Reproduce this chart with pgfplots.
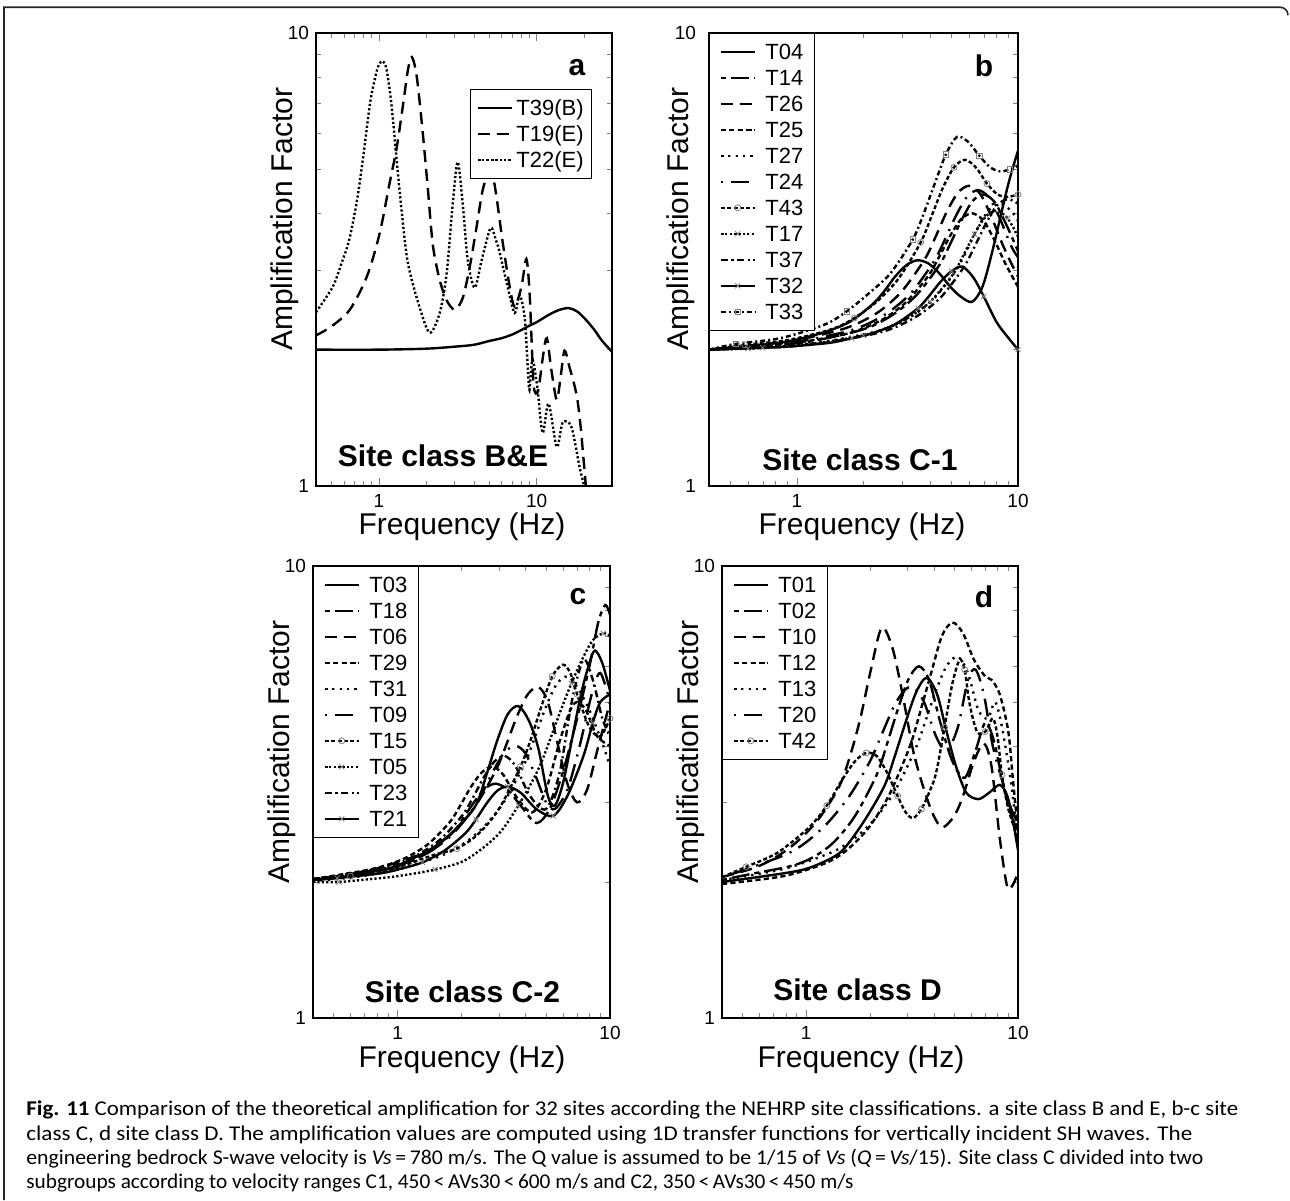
\documentclass[border=0pt]{standalone}
\usepackage{fontspec}
\setmainfont{Liberation Sans}
\newfontfamily\capfont{Carlito}
\usepackage{graphicx}
\usepackage{pgfplots}
\pgfplotsset{compat=1.18}

\tikzset{
  sSolid/.style={solid},
  sDashLong/.style={dash pattern=on 6pt off 3.5pt},
  sDashDotLong/.style={dash pattern=on 2.5pt off 2.5pt on 9pt off 2.5pt},
  sDash/.style={dash pattern=on 2.6pt off 1.6pt},
  sDot/.style={dash pattern=on 1.1pt off 2.6pt},
  sDotLong/.style={dash pattern=on 1pt off 4pt on 9pt off 4pt},
  sCirc/.style={dash pattern=on 2pt off 1.2pt, mark=o, mark size=1.5pt, mark repeat=3, mark phase=2, mark options={solid, draw=gray, line width=0.4pt}},
  sDense/.style={dash pattern=on 1.1pt off 1.1pt},
  sDenseX/.style={dash pattern=on 1.1pt off 1.1pt, mark=x, mark size=1.8pt, mark repeat=3, mark phase=2, mark options={solid, draw=gray, line width=0.4pt}},
  sDashDot/.style={dash pattern=on 3.5pt off 1.8pt on 1pt off 1.8pt},
  sSolidX/.style={solid, mark=x, mark size=1.8pt, mark repeat=3, mark phase=2, mark options={solid, draw=gray, line width=0.4pt}},
  sSq/.style={dash pattern=on 2.5pt off 1.5pt on 1pt off 1.5pt, mark=square, mark size=1.4pt, mark repeat=3, mark phase=2, mark options={solid, draw=gray, line width=0.4pt}},
}

\pgfplotsset{
  scale only axis,
  xmin=0.4, xmax=10, ymin=1, ymax=10,
  xtick={1,10}, xticklabels={1,10},
  ytick={1,10}, yticklabels={1,10},
  minor xtick={0.5,0.6,0.7,0.8,0.9,2,3,4,5,6,7,8,9},
  minor ytick={2,3,4,5,6,7,8,9},
  tick align=inside,
  major tick length=3.8pt, minor tick length=2.3pt,
  axis line style={line width=0.75pt},
  tick label style={font=\fontsize{9.5}{11}\selectfont},
  xticklabel style={yshift=-0.8pt},
  legend cell align=left,
  legend style={font=\fontsize{11}{13}\selectfont, draw=black, line width=0.5pt,
    inner xsep=5pt, inner ysep=4.5pt, row sep=3.7pt,
    /tikz/every odd column/.append style={column sep=4pt},
    nodes={inner sep=0.7pt, text height=7.9pt, text depth=0pt}},
  every axis plot/.append style={line width=1.2pt, black, smooth},
}

\begin{document}
\begin{tikzpicture}
\useasboundingbox (0,0) rectangle (645pt,-600pt);
\draw[line width=0.8pt, black!85] (2pt,-600pt) -- (2pt,-3.6pt) -- (640pt,-3.6pt) arc[start angle=90, end angle=0, radius=4pt];

% ---------------- panel a ----------------
\begin{loglogaxis}[at={(158pt,-243pt)}, anchor=south west, width=148pt, height=226.5pt,
  xmax=30, minor xtick={0.5,0.6,0.7,0.8,0.9,2,3,4,5,6,7,8,9,20},
  legend style={at={(0.52,0.876)}, anchor=north west, inner xsep=3pt,
    /tikz/every odd column/.append style={column sep=1pt}}]
\addplot[sSolid] coordinates {(0.4,2.0)(1,2.0)(2,2.01)(3,2.03)(4,2.05)(5,2.09)(6,2.12)(7,2.16)(8,2.21)(9,2.26)(10,2.3)(12,2.39)(14,2.45)(16,2.47)(18,2.43)(20,2.35)(23,2.22)(26,2.09)(30,1.98)};
\addlegendentry{T39(B)}
\addplot[sDashLong] coordinates {(0.4,2.15)(0.5,2.25)(0.655,2.45)(0.84,2.9)(1.01,3.6)(1.17,4.66)(1.3,5.6)(1.42,6.9)(1.53,8.3)(1.62,8.85)(1.74,8.0)(1.9,6.0)(2.04,4.57)(2.2,3.4)(2.43,2.85)(2.69,2.57)(3.03,2.45)(3.4,2.6)(3.77,3.05)(4.16,3.73)(4.55,4.5)(5.0,4.95)(5.3,4.8)(5.6,4.28)(6.1,3.44)(6.75,2.75)(7.25,2.49)(8.0,2.75)(8.6,3.17)(9.0,2.7)(9.3,2.07)(9.6,1.65)(10.2,1.62)(11.0,1.95)(11.6,2.12)(12.4,1.8)(13.4,1.55)(14.2,1.75)(15.0,1.99)(16.0,1.85)(17.9,1.59)(19.0,1.35)(19.5,1.22)(20.5,1.0)(21,0.9)};
\addlegendentry{T19(E)}
\addplot[sDense] coordinates {(0.4,2.42)(0.51,2.75)(0.58,3.1)(0.65,3.5)(0.73,4.3)(0.8,5.4)(0.88,7.0)(0.95,8.0)(1.0,8.5)(1.06,8.67)(1.12,8.3)(1.2,7.0)(1.3,5.2)(1.4,4.0)(1.53,3.1)(1.8,2.5)(2.1,2.18)(2.43,2.41)(2.69,2.95)(2.94,4.2)(3.16,5.19)(3.4,4.2)(3.66,3.15)(4.05,2.74)(4.48,3.15)(5.1,3.71)(5.5,3.5)(5.8,3.3)(6.55,2.75)(7.25,2.41)(7.8,2.64)(8.4,2.35)(8.8,1.8)(9.0,1.63)(9.4,1.9)(10.1,1.65)(10.9,1.31)(11.9,1.52)(13.4,1.22)(14.6,1.38)(16.6,1.35)(18.7,1.1)(20,1.0)(20.5,0.95)};
\addlegendentry{T22(E)}
\end{loglogaxis}

% ---------------- panel b ----------------
\begin{loglogaxis}[at={(354.5pt,-243pt)}, anchor=south west, width=154.5pt, height=226.5pt,
  yticklabel style={xshift=-3pt},
  legend style={at={(0,1)}, anchor=north west}]
\addplot[sSolid] coordinates {(0.4,2.0)(0.55,2.03)(0.88,2.08)(1.1,2.13)(1.39,2.2)(1.75,2.31)(2.2,2.52)(2.48,2.69)(2.78,2.9)(3.12,3.07)(3.5,3.15)(3.93,3.1)(4.4,2.95)(4.95,2.75)(5.5,2.62)(6.2,2.55)(6.9,2.75)(7.6,3.25)(8.3,3.9)(9.1,4.7)(10,5.5)};
\addlegendentry{T04}
\addplot[sDashDotLong] coordinates {(0.4,2.0)(0.7,2.04)(1.11,2.08)(1.76,2.18)(2.21,2.26)(2.79,2.41)(3.5,2.65)(4.42,3.08)(4.96,3.44)(5.56,3.87)(6.24,4.26)(7.0,4.4)(7.85,4.23)(8.8,3.8)(10,3.3)};
\addlegendentry{T14}
\addplot[sDashLong] coordinates {(0.4,2.0)(0.6,2.04)(0.95,2.09)(1.51,2.2)(1.9,2.29)(2.39,2.44)(3.0,2.7)(3.79,3.17)(4.25,3.56)(4.76,4.03)(5.35,4.44)(6.0,4.6)(6.73,4.42)(7.55,3.95)(8.48,3.43)(9.51,3.04)(10,2.9)};
\addlegendentry{T26}
\addplot[sDash] coordinates {(0.4,2.0)(0.62,2.03)(0.98,2.07)(1.56,2.15)(1.96,2.22)(2.47,2.34)(3.1,2.54)(3.91,2.9)(4.39,3.2)(4.92,3.56)(5.52,3.88)(6.2,4.0)(6.96,3.86)(7.8,3.5)(8.76,3.1)(10,2.75)};
\addlegendentry{T25}
\addplot[sDot] coordinates {(0.4,2.0)(0.83,2.03)(1.31,2.08)(2.08,2.17)(2.62,2.24)(3.3,2.37)(4.16,2.59)(5.24,2.99)(5.88,3.32)(6.59,3.72)(7.4,4.07)(8.3,4.2)(9.31,4.05)(10,3.85)};
\addlegendentry{T27}
\addplot[sDotLong] coordinates {(0.4,2.0)(0.66,2.04)(1.04,2.09)(1.66,2.19)(2.09,2.28)(2.63,2.43)(3.31,2.68)(4.16,3.13)(4.67,3.5)(5.24,3.95)(5.88,4.35)(6.6,4.5)(7.4,4.33)(8.31,3.88)(9.33,3.38)(10,3.2)};
\addlegendentry{T24}
\addplot[sCirc] coordinates {(0.4,2.0)(0.58,2.05)(0.91,2.1)(1.44,2.22)(1.82,2.35)(2.29,2.55)(2.88,2.87)(3.63,3.45)(4.07,3.95)(4.57,4.55)(5.13,5.05)(5.75,5.25)(6.45,5.05)(7.24,4.65)(8.1,4.4)(9.0,4.35)(10,4.4)};
\addlegendentry{T43}
\addplot[sDenseX] coordinates {(0.4,2.0)(0.6,2.01)(0.8,2.03)(1.26,2.07)(2.0,2.15)(2.53,2.23)(3.18,2.35)(4.0,2.55)(5.05,2.92)(5.66,3.23)(6.35,3.6)(7.13,3.93)(8.0,4.05)(8.98,3.9)(10,3.55)};
\addlegendentry{T17}
\addplot[sDashDot] coordinates {(0.4,2.0)(0.9,2.03)(1.42,2.08)(2.26,2.17)(2.84,2.25)(3.58,2.39)(4.51,2.62)(5.68,3.04)(6.37,3.38)(7.15,3.79)(8.02,4.16)(9.0,4.3)(10,4.2)};
\addlegendentry{T37}
\addplot[sSolidX] coordinates {(0.4,2.0)(0.7,2.02)(0.89,2.03)(1.4,2.07)(1.77,2.12)(2.23,2.18)(2.8,2.28)(3.53,2.47)(3.97,2.63)(4.45,2.82)(5.0,2.98)(5.6,3.05)(6.3,2.88)(7.0,2.62)(8.0,2.3)(9.0,2.13)(10,2.0)};
\addlegendentry{T32}
\addplot[sSq] coordinates {(0.4,2.0)(0.53,2.06)(0.84,2.12)(1.33,2.27)(1.68,2.43)(2.11,2.66)(2.65,2.95)(3.34,3.5)(3.75,4.0)(4.2,4.65)(4.72,5.4)(5.3,5.9)(5.95,5.75)(6.7,5.35)(7.5,5.05)(8.3,4.95)(9.2,5.0)(10,5.1)};
\addlegendentry{T33}
\end{loglogaxis}

% ---------------- panel c ----------------
\begin{loglogaxis}[at={(156.5pt,-509pt)}, anchor=south west, width=148.5pt, height=226pt,
  legend style={at={(0,1)}, anchor=north west}]
\addplot[sSolid] coordinates {(0.4,2.02)(0.585,2.06)(0.93,2.15)(1.17,2.25)(1.47,2.38)(1.85,2.6)(2.33,2.95)(2.62,3.45)(2.94,4.1)(3.3,4.7)(3.7,4.9)(4.15,4.55)(4.6,3.95)(5.1,3.1)(5.5,2.95)(6.0,3.3)(6.6,4.1)(7.3,5.2)(8.0,6.1)(8.5,6.5)(9.2,6.1)(10,5.3)};
\addlegendentry{T03}
\addplot[sDashDotLong] coordinates {(0.4,2.03)(0.73,2.1)(0.92,2.14)(1.15,2.22)(1.45,2.35)(1.83,2.58)(2.05,2.78)(2.3,3.01)(2.58,3.22)(2.9,3.3)(3.3,3.2)(3.8,2.95)(4.5,2.7)(5.2,2.9)(6,3.5)(7,4.6)(8,6.0)(8.8,7.5)(9.5,8.2)(10,7.8)};
\addlegendentry{T18}
\addplot[sDashLong] coordinates {(0.4,2.02)(0.73,2.12)(1.15,2.26)(1.45,2.37)(1.83,2.58)(2.3,2.92)(2.9,3.53)(3.26,4.04)(3.65,4.65)(4.1,5.2)(4.6,5.4)(5.1,5.0)(5.7,4.0)(6.3,3.3)(7,3.0)(7.8,3.2)(8.7,3.9)(10,5.0)};
\addlegendentry{T06}
\addplot[sDash] coordinates {(0.4,2.03)(0.7,2.12)(0.89,2.18)(1.11,2.27)(1.4,2.43)(1.77,2.72)(1.98,2.96)(2.22,3.25)(2.5,3.5)(2.8,3.6)(3.15,3.45)(3.6,3.1)(4.3,2.85)(5.0,3.2)(5.8,4.1)(6.5,4.8)(7,5.0)(7.7,4.8)(8.7,4.2)(10,4.0)};
\addlegendentry{T29}
\addplot[sDot] coordinates {(0.4,2.01)(0.63,2.05)(1.0,2.13)(1.58,2.28)(1.99,2.41)(2.51,2.63)(3.16,3.0)(3.98,3.67)(4.46,4.22)(5.0,4.89)(5.61,5.48)(6.3,5.7)(7.0,5.4)(8,4.8)(9.3,4.0)(10,3.6)};
\addlegendentry{T31}
\addplot[sDotLong] coordinates {(0.4,2.02)(0.57,2.07)(0.9,2.15)(1.14,2.22)(1.43,2.34)(1.8,2.54)(2.27,2.9)(2.55,3.2)(2.86,3.56)(3.2,3.88)(3.6,4.0)(4.0,3.85)(4.5,3.4)(5.0,3.0)(5.5,2.9)(6.3,3.2)(7.2,4.0)(8.2,5.2)(9,5.8)(10,5.0)};
\addlegendentry{T09}
\addplot[sCirc] coordinates {(0.4,2.02)(0.6,2.06)(0.95,2.14)(1.5,2.3)(1.9,2.37)(2.39,2.55)(3.0,2.9)(3.79,3.6)(4.25,4.15)(4.76,4.9)(5.35,5.7)(6.0,6.05)(6.5,5.8)(7,5.2)(8,4.4)(9,4.2)(10,4.6)};
\addlegendentry{T15}
\addplot[sDenseX] coordinates {(0.4,2.0)(0.53,2.0)(0.75,2.03)(1.0,2.06)(1.5,2.13)(2.1,2.24)(2.96,2.54)(3.7,2.95)(4.66,3.6)(5.87,4.8)(6.58,5.5)(7.38,6.2)(8.29,6.85)(9.3,7.1)(10,7.0)};
\addlegendentry{T05}
\addplot[sDashDot] coordinates {(0.4,2.03)(0.51,2.06)(0.8,2.14)(1.01,2.2)(1.27,2.31)(1.6,2.49)(2.02,2.81)(2.27,3.08)(2.54,3.4)(2.85,3.69)(3.2,3.8)(3.6,3.6)(4.2,3.1)(5.0,2.9)(5.8,3.5)(6.6,5.0)(7.5,6.2)(8.3,5.6)(9.2,4.6)(10,4.2)};
\addlegendentry{T23}
\addplot[sSolidX] coordinates {(0.4,2.02)(0.52,2.04)(0.83,2.09)(1.04,2.14)(1.31,2.21)(1.65,2.34)(2.08,2.56)(2.34,2.75)(2.62,2.98)(2.94,3.18)(3.3,3.25)(3.8,3.15)(4.5,2.9)(5.4,2.8)(6.3,3.1)(7.5,3.8)(8.3,4.5)(9,5.0)(10,5.2)};
\addlegendentry{T21}
\end{loglogaxis}

% ---------------- panel d ----------------
\begin{loglogaxis}[at={(361pt,-509pt)}, anchor=south west, width=148pt, height=226pt,
  legend style={at={(0,1)}, anchor=north west}]
\addplot[sSolid] coordinates {(0.4,2.0)(0.59,2.05)(0.93,2.12)(1.17,2.2)(1.47,2.34)(1.85,2.7)(2.33,3.25)(2.62,3.8)(2.94,4.5)(3.3,5.25)(3.7,5.66)(4.15,5.2)(4.6,4.3)(5.1,3.6)(5.7,3.15)(6.5,3.05)(7.3,3.15)(8.2,3.28)(8.9,3.1)(9.5,2.7)(10,2.35)};
\addlegendentry{T01}
\addplot[sDashDotLong] coordinates {(0.4,2.02)(0.54,2.08)(0.85,2.17)(1.08,2.27)(1.35,2.45)(1.7,2.8)(2.15,3.45)(2.41,4.05)(2.7,4.8)(3.03,5.6)(3.4,6.0)(3.8,5.6)(4.3,4.5)(4.9,3.7)(5.6,3.4)(6.3,3.9)(7.0,4.5)(7.7,4.1)(8.5,3.3)(9.3,2.8)(10,2.6)};
\addlegendentry{T02}
\addplot[sDashLong] coordinates {(0.4,2.05)(0.57,2.15)(0.72,2.27)(0.9,2.45)(1.14,2.75)(1.43,3.25)(1.61,3.8)(1.8,4.6)(2.02,5.9)(2.27,7.3)(2.55,6.6)(2.85,5.2)(3.2,3.9)(3.6,3.2)(4.0,2.8)(4.4,2.64)(5.0,2.8)(5.5,3.1)(6.2,3.7)(6.9,4.05)(7.5,3.6)(8.2,2.5)(8.9,1.95)(9.5,1.98)(10,2.1)};
\addlegendentry{T10}
\addplot[sDash] coordinates {(0.4,1.98)(0.78,2.06)(1.23,2.2)(1.55,2.35)(1.95,2.62)(2.45,3.1)(3.09,4.0)(3.47,4.8)(3.89,5.8)(4.37,7.0)(4.9,7.5)(5.5,7.1)(6.2,6.2)(7.0,5.7)(7.5,5.6)(8.2,5.2)(9.0,4.3)(9.5,3.3)(10,2.6)};
\addlegendentry{T12}
\addplot[sDot] coordinates {(0.4,2.02)(0.52,2.06)(0.82,2.15)(1.3,2.32)(1.64,2.47)(2.07,2.73)(2.6,3.16)(3.28,3.94)(3.68,4.58)(4.13,5.35)(4.63,6.04)(5.2,6.3)(5.8,5.8)(6.5,4.8)(7.2,4.6)(7.8,5.0)(8.4,4.4)(9.2,3.4)(10,2.5)};
\addlegendentry{T13}
\addplot[sDotLong] coordinates {(0.4,2.05)(0.5,2.12)(0.8,2.3)(1.0,2.45)(1.26,2.7)(1.6,3.1)(2.0,3.7)(2.3,4.3)(2.6,4.9)(2.9,5.3)(3.2,5.4)(3.6,5.0)(4.1,4.2)(4.6,3.9)(5.2,4.4)(5.8,5.6)(6.3,5.9)(6.9,5.2)(7.6,4.0)(8.5,3.3)(9.3,2.9)(10,2.7)};
\addlegendentry{T20}
\addplot[sCirc] coordinates {(0.4,2.05)(0.52,2.16)(0.73,2.32)(1.03,2.64)(1.25,2.95)(1.48,3.37)(1.7,3.7)(1.92,3.86)(2.15,3.8)(2.4,3.5)(2.7,3.1)(2.95,2.85)(3.2,2.77)(3.5,2.9)(3.8,3.15)(4.1,3.48)(4.5,4.4)(4.9,5.5)(5.3,6.2)(5.6,5.9)(5.9,4.97)(6.4,4.3)(7.0,4.3)(7.6,4.6)(8.0,4.2)(8.4,3.45)(9.0,2.9)(10,2.5)};
\addlegendentry{T42}
\end{loglogaxis}

% ---------------- labels ----------------
\tikzset{albl/.style={font=\fontsize{15}{18}\selectfont, inner sep=0pt}}
\node[albl, rotate=90, anchor=base] at (146pt,-109.5pt) {Amplification Factor};
\node[albl, rotate=90, anchor=base] at (344pt,-109.5pt) {Amplification Factor};
\node[albl, rotate=90, anchor=base] at (144.5pt,-376pt) {Amplification Factor};
\node[albl, rotate=90, anchor=base] at (349pt,-376pt) {Amplification Factor};
\node[albl, anchor=base] at (231pt,-267pt) {Frequency (Hz)};
\node[albl, anchor=base] at (431pt,-267pt) {Frequency (Hz)};
\node[albl, anchor=base] at (231pt,-533.5pt) {Frequency (Hz)};
\node[albl, anchor=base] at (430.5pt,-533.5pt) {Frequency (Hz)};
\tikzset{blbl/.style={font=\fontsize{15}{18}\selectfont\bfseries, inner sep=0pt}}
\node[blbl] at (288.5pt,-34pt) {a};
\node[blbl] at (492pt,-33pt) {b};
\node[blbl] at (289pt,-298.5pt) {c};
\node[blbl] at (492pt,-298.5pt) {d};
\node[blbl, anchor=base] at (221.5pt,-233pt) {Site class B\&E};
\node[blbl, anchor=base] at (430pt,-235pt) {Site class C-1};
\node[blbl, anchor=base] at (231.25pt,-501pt) {Site class C-2};
\node[blbl, anchor=base] at (428.75pt,-500pt) {Site class D};

% ---------------- caption ----------------
\tikzset{captxt/.style={anchor=base west, inner sep=0pt, font=\capfont\fontsize{10.5}{12}\selectfont}}
\node[captxt] at (13pt,-557.9pt) {\resizebox{606pt}{\height}{\textbf{Fig. 11} Comparison of the theoretical amplification for 32 sites according the NEHRP site classifications. a site class B and E, b-c site}};
\node[captxt] at (13pt,-570pt) {\resizebox{583pt}{\height}{class C, d site class D. The amplification values are computed using 1D transfer functions for vertically incident SH waves. The}};
\node[captxt] at (13pt,-582pt) {\resizebox{588.5pt}{\height}{engineering bedrock S-wave velocity is \textit{Vs}\,=\,780 m/s. The Q value is assumed to be 1/15 of \textit{Vs} (\textit{Q}\,=\,\textit{Vs}/15). Site class C divided into two}};
\node[captxt] at (13pt,-594pt) {\resizebox{413.5pt}{\height}{subgroups according to velocity ranges C1, 450\,<\,AVs30\,<\,600 m/s and C2, 350\,<\,AVs30\,<\,450 m/s}};
\end{tikzpicture}
\end{document}
